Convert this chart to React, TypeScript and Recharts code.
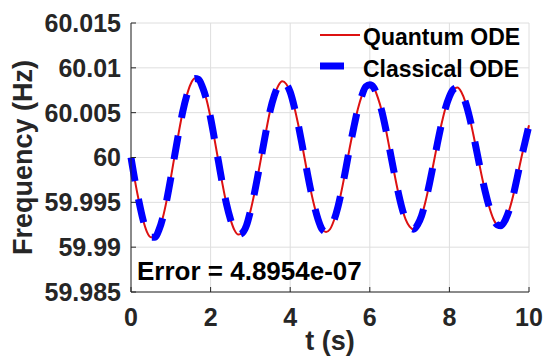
import { CartesianGrid, Label, Legend, Line, LineChart, XAxis, YAxis } from "recharts";

const FONT = "'Liberation Sans', Arial, Helvetica, sans-serif";
const AXIS = "#262626";

// time (s)
const time = [
  0, 0.1, 0.2, 0.3, 0.4, 0.5, 0.6, 0.7, 0.8, 0.9,
  1, 1.1, 1.2, 1.3, 1.4, 1.5, 1.6, 1.7, 1.8, 1.9,
  2, 2.1, 2.2, 2.3, 2.4, 2.5, 2.6, 2.7, 2.8, 2.9,
  3, 3.1, 3.2, 3.3, 3.4, 3.5, 3.6, 3.7, 3.8, 3.9,
  4, 4.1, 4.2, 4.3, 4.4, 4.5, 4.6, 4.7, 4.8, 4.9,
  5, 5.1, 5.2, 5.3, 5.4, 5.5, 5.6, 5.7, 5.8, 5.9,
  6, 6.1, 6.2, 6.3, 6.4, 6.5, 6.6, 6.7, 6.8, 6.9,
  7, 7.1, 7.2, 7.3, 7.4, 7.5, 7.6, 7.7, 7.8, 7.9,
  8, 8.1, 8.2, 8.3, 8.4, 8.5, 8.6, 8.7, 8.8, 8.9,
  9, 9.1, 9.2, 9.3, 9.4, 9.5, 9.6, 9.7, 9.8, 9.9,
  10,
];

// frequency (Hz)
const quantumODE = [
  60.0, 59.9974, 59.9951, 59.9931, 59.9917, 59.9911, 59.9911, 59.9919, 59.9933, 59.9953,
  59.9977, 60.0003, 60.0028, 60.0051, 60.0069, 60.0082, 60.0088, 60.0087, 60.0078, 60.0064,
  60.0044, 60.002, 59.9995, 59.997, 59.9948, 59.9931, 59.9919, 59.9914, 59.9916, 59.9924,
  59.994, 59.996, 59.9983, 60.0007, 60.0031, 60.0053, 60.0069, 60.008, 60.0085, 60.0082,
  60.0073, 60.0057, 60.0037, 60.0014, 59.999, 59.9967, 59.9947, 59.9931, 59.992, 59.9917,
  59.992, 59.993, 59.9945, 59.9965, 59.9988, 60.0012, 60.0034, 60.0054, 60.0069, 60.0079,
  60.0081, 60.0078, 60.0067, 60.0052, 60.0032, 60.0009, 59.9986, 59.9964, 59.9945, 59.9931,
  59.9923, 59.992, 59.9925, 59.9935, 59.9951, 59.9971, 59.9993, 60.0016, 60.0037, 60.0055,
  60.0068, 60.0076, 60.0078, 60.0073, 60.0062, 60.0046, 60.0026, 60.0004, 59.9982, 59.9962,
  59.9945, 59.9932, 59.9925, 59.9924, 59.993, 59.9941, 59.9957, 59.9977, 59.9998, 60.0017,
  60.0036,
];

// classical solution overlaps the quantum one (error ~5e-7)
const classicalODE = [...quantumODE];

const xTicks = [0, 2, 4, 6, 8, 10];
const yTicks = [59.985, 59.99, 59.995, 60, 60.005, 60.01, 60.015];
const yTickLabels = ["59.985", "59.99", "59.995", "60", "60.005", "60.01", "60.015"];

const data = time.map((t, i) => ({ t, quantum: quantumODE[i], classical: classicalODE[i] }));

const tickStyle = { fill: AXIS, fontSize: 25, fontWeight: "bold", fontFamily: FONT };

function YLabel(props: any) {
  const vb = props.viewBox;
  const cx = 22;
  const cy = vb.y + vb.height / 2;
  return (
    <text
      x={cx}
      y={cy}
      dy="0.36em"
      transform={`rotate(-90 ${cx} ${cy})`}
      textAnchor="middle"
      fill={AXIS}
      fontSize={27}
      fontWeight="bold"
      fontFamily={FONT}
    >
      Frequency (Hz)
    </text>
  );
}

function LegendBox() {
  return (
    <svg width={220} height={64} style={{ display: "block" }}>
      <line x1={2} x2={42} y1={15} y2={15} stroke="#dd1111" strokeWidth={2} />
      <line x1={2} x2={42} y1={46} y2={46} stroke="#0000ff" strokeWidth={7} strokeDasharray="24 18" />
      <text x={45} y={25} fontSize={23} fontWeight="bold" fontFamily={FONT} fill="#000">
        Quantum ODE
      </text>
      <text x={45} y={57} fontSize={23} fontWeight="bold" fontFamily={FONT} fill="#000">
        Classical ODE
      </text>
    </svg>
  );
}

export default function App() {
  return (
    <div style={{ position: "absolute", left: 0, top: 0, width: 560, height: 362, background: "#fff" }}>
      <LineChart width={560} height={362} data={data} margin={{ top: 23, right: 31, left: 0, bottom: 0 }}>
        <CartesianGrid stroke="#dedede" strokeWidth={1} />
        <XAxis
          dataKey="t"
          type="number"
          domain={[0, 10]}
          ticks={xTicks}
          interval={0}
          height={70}
          tickSize={-5}
          tickMargin={21}
          tick={tickStyle}
          axisLine={{ stroke: AXIS }}
          tickLine={{ stroke: AXIS }}
        >
          <Label
            value="t (s)"
            position="insideBottom"
            offset={12}
            fill={AXIS}
            fontSize={27}
            fontWeight="bold"
            fontFamily={FONT}
          />
        </XAxis>
        <XAxis
          xAxisId="top"
          orientation="top"
          type="number"
          domain={[0, 10]}
          ticks={xTicks}
          interval={0}
          height={0}
          tickSize={-5}
          tick={false}
          axisLine={{ stroke: AXIS }}
          tickLine={{ stroke: AXIS }}
        />
        <YAxis
          type="number"
          domain={[59.985, 60.015]}
          ticks={yTicks}
          interval={0}
          width={131}
          tickSize={-5}
          tickMargin={15}
          tick={tickStyle}
          tickFormatter={(_v: number, i: number) => yTickLabels[i]}
          axisLine={{ stroke: AXIS }}
          tickLine={{ stroke: AXIS }}
        >
          <Label content={YLabel} />
        </YAxis>
        <YAxis
          yAxisId="right"
          orientation="right"
          type="number"
          domain={[59.985, 60.015]}
          ticks={yTicks}
          interval={0}
          width={0}
          tickSize={-5}
          tick={false}
          axisLine={{ stroke: AXIS }}
          tickLine={{ stroke: AXIS }}
        />
        <Line
          type="monotone"
          dataKey="quantum"
          stroke="#dd1111"
          strokeWidth={2}
          dot={false}
          isAnimationActive={false}
        />
        <Line
          type="monotone"
          dataKey="classical"
          stroke="#0000ff"
          strokeWidth={7}
          strokeDasharray="24 18"
          strokeLinecap="butt"
          dot={false}
          isAnimationActive={false}
        />
        <Legend
          layout="horizontal"
          verticalAlign="middle"
          align="center"
          content={LegendBox}
          wrapperStyle={{ position: "absolute", left: 318, top: 20, width: 220, height: 64 }}
        />
      </LineChart>
      <svg
        width={560}
        height={362}
        style={{ position: "absolute", left: 0, top: 0, pointerEvents: "none" }}
      >
        <text x={137} y={280} fontSize={26} fontWeight="bold" fontFamily={FONT} fill="#000">
          Error = 4.8954e-07
        </text>
      </svg>
    </div>
  );
}
